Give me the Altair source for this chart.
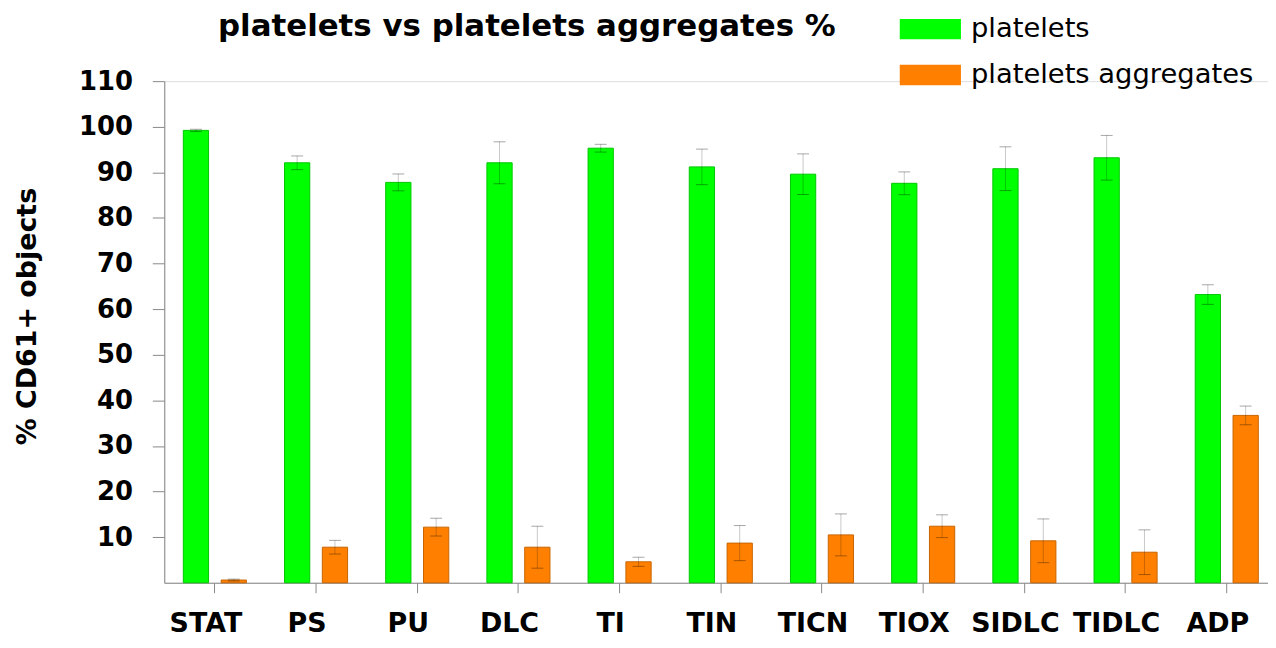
import altair as alt
import pandas as pd

categories = ["STAT", "PS", "PU", "DLC", "TI", "TIN", "TICN", "TIOX", "SIDLC", "TIDLC", "ADP"]
series_names = ["platelets", "platelets aggregates"]
platelets_mean = [99.2, 92.1, 87.8, 92.1, 95.3, 91.2, 89.6, 87.6, 90.8, 93.2, 63.2]
platelets_err = [0.25, 1.5, 1.85, 4.6, 0.85, 3.9, 4.45, 2.5, 4.8, 4.9, 2.15]
aggregates_mean = [0.6, 7.8, 12.2, 7.8, 4.6, 8.7, 10.5, 12.4, 9.2, 6.7, 36.7]
aggregates_err = [0.2, 1.5, 1.95, 4.6, 1.0, 3.85, 4.6, 2.5, 4.8, 4.9, 2.05]
y_tick_values = [10, 20, 30, 40, 50, 60, 70, 80, 90, 100, 110]
fill_colors = ["#00ff00", "#ff8000"]
stroke_colors = ["#00c800", "#c86400"]

rows = []
for i, c in enumerate(categories):
    for s, means, errs in ((series_names[0], platelets_mean, platelets_err),
                           (series_names[1], aggregates_mean, aggregates_err)):
        m, e = means[i], errs[i]
        rows.append({"category": c, "series": s, "mean": m, "lo": m - e, "hi": m + e})
df = pd.DataFrame(rows)

FONT = "DejaVu Sans"

x_enc = alt.X("category:N", sort=categories,
              scale=alt.Scale(range=[0, 1118.4], paddingInner=0, paddingOuter=0),
              axis=alt.Axis(title=None, labelAngle=0, tickSize=10, labelPadding=18,
                            labelOffset=-9,
                            labelFontSize=27, labelFont=FONT, labelFontWeight="bold",
                            labelColor="black"))
xoff_enc = alt.XOffset("series:N", sort=series_names,
                       scale=alt.Scale(paddingInner=0.332, paddingOuter=0.504))

def y_enc(field):
    return alt.Y(f"{field}:Q",
                 scale=alt.Scale(domain=[0, 110], nice=False, zero=True),
                 axis=alt.Axis(values=y_tick_values, title="% CD61+ objects",
                               tickSize=12, labelPadding=20, labelFontSize=26,
                               labelFont=FONT, labelFontWeight="bold", labelColor="black",
                               titleFont=FONT, titleFontSize=27, titleFontWeight="bold",
                               titleColor="black", titleX=-137, titleY=236,
                               titleBaseline="middle", titleAngle=270, grid=False))

base = alt.Chart(df)

bars = base.mark_bar(strokeWidth=1).encode(
    x=x_enc,
    xOffset=xoff_enc,
    y=y_enc("mean"),
    color=alt.Color("series:N", sort=series_names,
                    scale=alt.Scale(domain=series_names, range=fill_colors),
                    legend=alt.Legend(title=None, orient="none", legendX=756, legendY=-66,
                                      symbolType="M-3,-1H3V1H-3Z", symbolSize=420,
                                      symbolStrokeWidth=0, symbolOpacity=1,
                                      labelOffset=27, rowPadding=17, padding=0,
                                      labelFont=FONT, labelFontSize=27.5, labelLimit=0,
                                      labelColor="black", labelBaseline="middle")),
    stroke=alt.Stroke("series:N", sort=series_names,
                      scale=alt.Scale(domain=series_names, range=stroke_colors),
                      legend=None),
)

err_rule = base.mark_rule(color="black", strokeOpacity=0.22, strokeWidth=1).encode(
    x=x_enc, xOffset=xoff_enc, y=y_enc("lo"), y2="hi:Q")
cap_hi = base.mark_tick(orient="horizontal", size=12, thickness=1, color="black",
                        opacity=0.35).encode(x=x_enc, xOffset=xoff_enc, y=y_enc("hi"))
cap_lo = base.mark_tick(orient="horizontal", size=12, thickness=1, color="black",
                        opacity=0.35).encode(x=x_enc, xOffset=xoff_enc, y=y_enc("lo"))

chart = alt.layer(bars, err_rule, cap_hi, cap_lo).properties(
    width=1109, height=504,
    title=alt.TitleParams("platelets vs platelets aggregates %", anchor="start",
                          frame="group", dx=54, dy=27.5, offset=0, font=FONT, fontSize=31,
                          fontWeight="bold", color="black"),
    autosize=alt.AutoSizeParams(type="none"),
    padding={"left": 157, "top": 72, "right": 0, "bottom": 56},
).configure_view(stroke=None).configure_axis(
    domainColor="#c4c4c4", tickColor="#c4c4c4", domainWidth=1, tickWidth=1
).configure(background="white")

chart.save("out.html", embed_options={"renderer": "svg", "actions": False})
